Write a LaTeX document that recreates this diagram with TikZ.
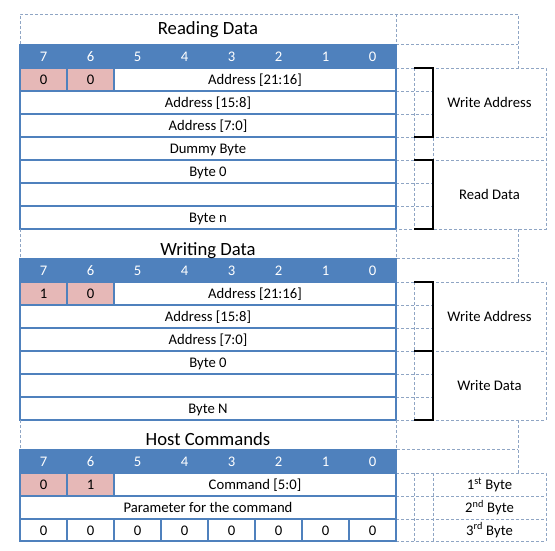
\documentclass[tikz,border=0pt]{standalone}
\usepackage{fontspec}
\setmainfont{Carlito}
\usepackage{tikz}

\tikzset{
  grid/.style={draw=gridblue, dash pattern=on 3pt off 2pt, line width=0.8pt},
  tbl/.style={draw=tblblue, line width=2pt},
  brk/.style={draw=black, line width=2pt},
  txt/.style={font=\fontsize{14.67}{17}\selectfont, text height=12pt, text depth=2pt, inner sep=0pt},
  hdr/.style={txt, text=white},
  ttl/.style={font=\fontsize{18.67}{21}\selectfont, anchor=base, inner sep=0pt},
}

\begin{document}
\begin{tikzpicture}[x=1pt, y=-1pt]
\definecolor{tblblue}{RGB}{79,129,189}
\definecolor{pinkcell}{RGB}{230,184,183}
\definecolor{gridblue}{RGB}{143,165,196}

\useasboundingbox (0,0) rectangle (555,550);

% Reading Data
\draw [grid] (20,44) -- (20,14) -- (518,14) -- (518,68);
\draw [grid] (396,14) -- (396,44) -- (518,44);
\draw [grid] (396,68) -- (546,68) -- (546,229) -- (396,229);
\draw [grid] (396,137) -- (546,137);
\draw [grid] (396,160) -- (546,160);
\draw [grid] (414,68) -- (414,229);
\draw [grid] (433,68) -- (433,229);
\draw [grid] (396,91) -- (433,91);
\draw [grid] (396,114) -- (433,114);
\draw [grid] (396,183) -- (433,183);
\draw [grid] (396,206) -- (433,206);
\fill [tblblue] (19,44) rectangle (397,68);
\fill [pinkcell] (20,68) rectangle (114,91);
\draw [tbl] (20,68) rectangle (396,229);
\draw [tbl] (20,91) -- (396,91);
\draw [tbl] (20,114) -- (396,114);
\draw [tbl] (20,137) -- (396,137);
\draw [tbl] (20,160) -- (396,160);
\draw [tbl] (20,183) -- (396,183);
\draw [tbl] (20,206) -- (396,206);
\draw [tbl] (67,68) -- (67,91);
\draw [tbl] (114,68) -- (114,91);
\draw [brk] (414,68) -- (433,68) -- (433,137) -- (414,137);
\draw [brk] (414,160) -- (433,160) -- (433,229) -- (414,229);
\node [ttl] (rdttl) at (208,34.5) {Reading Data};
\node [hdr] (rd7) at (43.5,56) {7};
\node [hdr] (rd6) at (90.5,56) {6};
\node [hdr] (rd5) at (137.5,56) {5};
\node [hdr] (rd4) at (184.5,56) {4};
\node [hdr] (rd3) at (231.5,56) {3};
\node [hdr] (rd2) at (278.5,56) {2};
\node [hdr] (rd1) at (325.5,56) {1};
\node [hdr] (rd0) at (372.5,56) {0};
\node [txt] (rdb7) at (43.5,79.5) {0};
\node [txt] (rdb6) at (90.5,79.5) {0};
\node [txt] (rdhi) at (255,79.5) {Address [21:16]};
\node [txt] (rdmid) at (208,102.5) {Address [15:8]};
\node [txt] (rdlo) at (208,125.5) {Address [7:0]};
\node [txt] (rddum) at (208,148.5) {Dummy Byte};
\node [txt] (rdfirst) at (208,171.5) {Byte 0};
\node [txt] (rdlast) at (208,217.5) {Byte n};
\node [txt] (rdaddr) at (489.5,102.5) {Write Address};
\node [txt] (rddata) at (489.5,194.5) {Read Data};

% Writing Data
\draw [grid] (20,229) -- (20,258);
\draw [grid] (396,229) -- (396,258) -- (518,258);
\draw [grid] (518,229) -- (518,282);
\draw [grid] (396,282) -- (546,282) -- (546,420) -- (396,420);
\draw [grid] (396,351) -- (546,351);
\draw [grid] (414,282) -- (414,420);
\draw [grid] (433,282) -- (433,420);
\draw [grid] (396,305) -- (433,305);
\draw [grid] (396,328) -- (433,328);
\draw [grid] (396,374) -- (433,374);
\draw [grid] (396,397) -- (433,397);
\fill [tblblue] (19,258) rectangle (397,282);
\fill [pinkcell] (20,282) rectangle (114,305);
\draw [tbl] (20,282) rectangle (396,420);
\draw [tbl] (20,305) -- (396,305);
\draw [tbl] (20,328) -- (396,328);
\draw [tbl] (20,351) -- (396,351);
\draw [tbl] (20,374) -- (396,374);
\draw [tbl] (20,397) -- (396,397);
\draw [tbl] (67,282) -- (67,305);
\draw [tbl] (114,282) -- (114,305);
\draw [brk] (414,282) -- (433,282) -- (433,420) -- (414,420);
\draw [brk] (414,351) -- (433,351);
\node [ttl] (wrttl) at (208,255) {Writing Data};
\node [hdr] (wr7) at (43.5,270) {7};
\node [hdr] (wr6) at (90.5,270) {6};
\node [hdr] (wr5) at (137.5,270) {5};
\node [hdr] (wr4) at (184.5,270) {4};
\node [hdr] (wr3) at (231.5,270) {3};
\node [hdr] (wr2) at (278.5,270) {2};
\node [hdr] (wr1) at (325.5,270) {1};
\node [hdr] (wr0) at (372.5,270) {0};
\node [txt] (wrb7) at (43.5,293.5) {1};
\node [txt] (wrb6) at (90.5,293.5) {0};
\node [txt] (wrhi) at (255,293.5) {Address [21:16]};
\node [txt] (wrmid) at (208,316.5) {Address [15:8]};
\node [txt] (wrlo) at (208,339.5) {Address [7:0]};
\node [txt] (wrfirst) at (208,362.5) {Byte 0};
\node [txt] (wrlast) at (208,408.5) {Byte N};
\node [txt] (wraddr) at (489.5,316.5) {Write Address};
\node [txt] (wrdata) at (489.5,385.5) {Write Data};

% Host Commands
\draw [grid] (20,420) -- (20,449);
\draw [grid] (396,420) -- (396,449) -- (518,449);
\draw [grid] (518,420) -- (518,473);
\draw [grid] (396,473) -- (546,473) -- (546,541) -- (396,541);
\draw [grid] (396,496) -- (546,496);
\draw [grid] (396,519) -- (546,519);
\draw [grid] (414,473) -- (414,541);
\draw [grid] (433,473) -- (433,541);
\fill [tblblue] (19,449) rectangle (397,473);
\fill [pinkcell] (20,473) rectangle (114,496);
\draw [tbl] (20,473) rectangle (396,541);
\draw [tbl] (20,496) -- (396,496);
\draw [tbl] (20,519) -- (396,519);
\draw [tbl] (67,473) -- (67,496);
\draw [tbl] (114,473) -- (114,496);
\draw [tbl] (67,519) -- (67,541);
\draw [tbl] (114,519) -- (114,541);
\draw [tbl] (161,519) -- (161,541);
\draw [tbl] (208,519) -- (208,541);
\draw [tbl] (255,519) -- (255,541);
\draw [tbl] (302,519) -- (302,541);
\draw [tbl] (349,519) -- (349,541);
\node [ttl] (hcttl) at (208,445.7) {Host Commands};
\node [hdr] (hc7) at (43.5,461) {7};
\node [hdr] (hc6) at (90.5,461) {6};
\node [hdr] (hc5) at (137.5,461) {5};
\node [hdr] (hc4) at (184.5,461) {4};
\node [hdr] (hc3) at (231.5,461) {3};
\node [hdr] (hc2) at (278.5,461) {2};
\node [hdr] (hc1) at (325.5,461) {1};
\node [hdr] (hc0) at (372.5,461) {0};
\node [txt] (hcb7) at (43.5,484.5) {0};
\node [txt] (hcb6) at (90.5,484.5) {1};
\node [txt] (hccmd) at (255,484.5) {Command [5:0]};
\node [txt] (hcpar) at (208,507.5) {Parameter for the command};
\node [txt] (hcz7) at (43.5,530) {0};
\node [txt] (hcz6) at (90.5,530) {0};
\node [txt] (hcz5) at (137.5,530) {0};
\node [txt] (hcz4) at (184.5,530) {0};
\node [txt] (hcz3) at (231.5,530) {0};
\node [txt] (hcz2) at (278.5,530) {0};
\node [txt] (hcz1) at (325.5,530) {0};
\node [txt] (hcz0) at (372.5,530) {0};
\node [txt] (hcfirst) at (489.5,484.5) {1\textsuperscript{st} Byte};
\node [txt] (hcsecond) at (489.5,507.5) {2\textsuperscript{nd} Byte};
\node [txt] (hcthird) at (489.5,530) {3\textsuperscript{rd} Byte};
\end{tikzpicture}
\end{document}
